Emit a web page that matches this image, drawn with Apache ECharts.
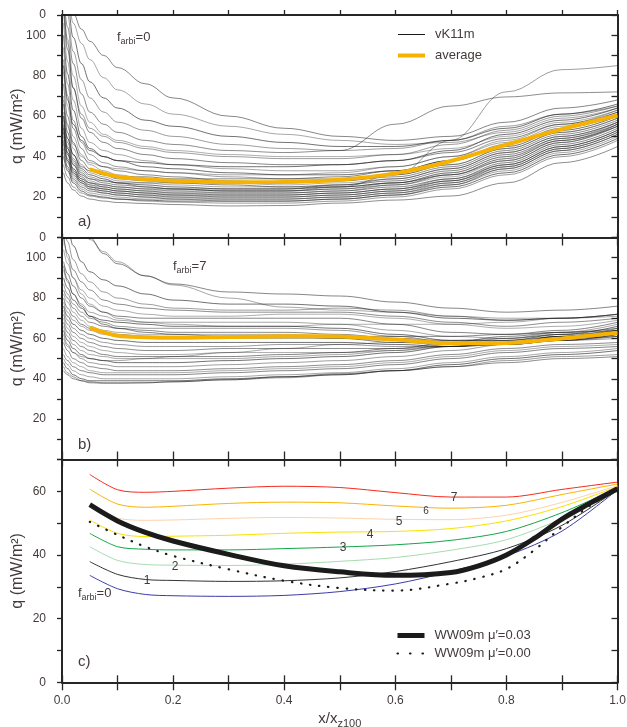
<!DOCTYPE html>
<html>
<head>
<meta charset="utf-8">
<script src="https://cdn.jsdelivr.net/npm/echarts@6/dist/echarts.min.js"></script>
<style>
  html, body { margin: 0; padding: 0; background: #fff; }
  #chart { width: 627px; height: 727px; }
</style>
</head>
<body>
<div id="chart"></div>
<script>
// ---------- data ----------
// sampling positions (x / x_z100) of the individual vK11m profiles
const xProfiles = [0.003, 0.01, 0.02, 0.035, 0.05, 0.075, 0.1, 0.15, 0.2, 0.3, 0.4, 0.5, 0.6, 0.7, 0.8, 0.9, 1.0];

// panel a) heat flow of individual vK11m models, f_arbi = 0
const vk11mA = [
  [150,128,111,103,97,90,84,76,69,60,54,50,48,50,57,64,68],
  [140,122,106,96,88,79,73,66,61,55,51,48,46,47,52,59,64],
  [132,116,99,86,77,69,64,58,55,50,47,45,45,48,54,61,66],
  [125,110,92,78,69,62,57,53,50,46,44,43,44,48,55,61,65],
  [120,104,86,71,62,56,52,48,46,43,42,43,56,65,69.5,71.5,72],
  [116,98,80,65,57,51,48,45,43,41,40,40,41,44,50,57,63],
  [112,93,74,59,52,47,44,41,39,37,36,36,38,42,49,56,62],
  [106,87,68,54,47,43,41,38,36,34,33,33,35,40,47,55,62],
  [100,81,63,50,44,40,38,35,34,32,31,31,33,38,45,53,60],
  [94,76,58,47,41,37,35,33,32,30,29,29,31,36,44,52,59],
  [88,70,54,44,38,35,33,31,30,28,27,28,30,35,43,51,58],
  [82,65,50,41,36,33,31,29,28,27,26,27,29,34,42,50,57],
  [76,60,47,38,34,31,29,28,27,26,25,26,28,33,41,49,56],
  [70,56,44,36,32,30,28,27,26,25,25,25,27,32,40,48,56],
  [66,52,41,34,31,29,27,26,25,24,24,25,27,31,39,48,55],
  [62,49,39,33,30,28,27,25,24,23,23,25,31,48,72,83,85],
  [60,47,38,32,29,27,26,25,24,23,23,24,26,31,38,47,55],
  [58,45,37,31,28,26,25,24,23,22,22,23,26,30,38,47,56],
  [56,44,36,30,27,25,24,23,22,22,22,23,25,29,37,46,54],
  [54,42,34,29,26,24,23,22,22,21,21,22,24,29,36,45,53],
  [52,41,33,28,25,24,23,22,21,21,21,22,24,28,36,45,53],
  [50,39,32,27,25,23,22,21,21,20,20,21,23,28,35,44,52],
  [48,38,31,27,24,23,22,21,20,20,20,21,23,27,35,44,52],
  [46,37,30,26,24,22,21,20,20,19,19,20,22,27,34,43,51],
  [44,35,29,25,23,22,21,20,19,19,19,20,22,26,34,43,51],
  [42,34,28,24,22,21,20,19,19,18,18,19,21,26,33,42,50],
  [40,33,27,23,21,20,19,18.5,18,18,18,19,21,25,32,41,49],
  [36,30,25,22,20.5,19.5,19,18,17.5,17,17,18,20,24,31,40,48],
  [32,27,23.5,20.5,19,18,17.3,16.8,16.3,15.6,15.8,17,18.5,20.5,27,37,45],
  [55,44,36,31,29,28,27,27,27,27,27,28,31,36,44,52,59],
  [60,49,41,35,33,31,30,30,29,29,29,30,33,38,46,54,61],
  [68,55,46,40,37,35,34,33,32,31,31,32,35,40,48,56,63],
  [85,68,56,48,43,40,38,37,36,35,35,36,38,43,51,58,64],
  [118,96,74,61,54,50,47,44,42,40,39,39,41,46,53,60,65],
  [54,42,34,29,27,26,25,24,24,24,24,26,29,34,42,50,57],
  [47,38,32,28,26,25,24,23,23,23,23,24,27,32,40,49,57]
];

// panel b) heat flow of individual vK11m models, f_arbi = 7
const vk11mB = [
  [150,135,124,116,110,102,97,91,87,83,82,81,78,75,73,74,76],
  [140,128,120,114,109,103,98,91,86.5,80,75.5,74,73,71,70,70,71],
  [128,116,106,98,93,89,86,82,79,77,77,76,73,70,69,70,72],
  [118,108,99,92,88,83,80,77,75,74,74,75,74,71,69,70,72],
  [110,102,94,88,84,79,77,75,74,73,73,73,71,68,66,68,70],
  [104,97,90,84,80,76,74,72,71,71,72,72,70,67,65,66,69],
  [98,92,86,80,76,73,71,70,70,70,70,70,67,63,62,64,68],
  [94,88,82,77,73,71,69,68,68,68,68,67,64,61,60,63,67],
  [90,85,79,75,71,69,68,67,66,66,66,65,62,59,59,62,66],
  [87,82,77,73,70,68,66,65,65,65,65,64,61,58,58,61,65],
  [84,80,75,71,68,66,65,64,63,63,63,62,60,58,58,61,64],
  [82,78,73,69,66,64,63,62,62,62,62,61,60,59,59,61,64],
  [80,75,71,67,65,63,62,61,61,61,61,61,61,61,62,63,65],
  [78,73,69,66,64,62,61,60,60,60,60,60,59,57,57,59,62],
  [76,71,67,64,62,60,59,58,58,58,58,58,57,56,57,59,62],
  [74,69,65,62,60,58,57,56,56,56,57,57,56,56,57,59,61],
  [72,67,63,60,58,56,55,54,54,55,55,55,55,56,58,60,62],
  [70,65,61,58,56,54,53,52,52,53,53,53,54,56,59,61,63],
  [68,63,59,56,54,52,51,51,51,51,52,53,55,58,61,63,64],
  [66,61,57,54,52,51,50,50,50,50,51,52,54,57,60,62,64],
  [64,59,55,52,50,49,48,48,48,49,50,51,53,56,58,60,61],
  [62,57,53,50,48,47,46,46,46,47,48,49,51,54,57,59,60],
  [58,54,50,48,46,45,44,44,44,45,46,47,49,52,55,57,58],
  [55,51,48,46,44,43,43,43,43,44,45,46,48,51,54,56,57],
  [52,49,46,44,43,42,42,42,42,43,44,45,47,50,53,55,56],
  [50,47,44,42,41,40,40,40,40,41,42,43,45,48,51,53,55],
  [48,45,42,40,39,39,39,39,39,40,41,42,44,47,50,52,54],
  [46,43,41,39,38.5,38,38,38,38.5,39.5,40.5,42,44,46,49,51,52],
  [44,42,40,39,38,37.8,37.8,38,38.5,39.5,41,42.5,44,46,48,50,51],
  [112,100,90,82,77,73,70,68,67,66,66,67,67,67,68,70,72],
  [96,89,82,76,71,67,65,63,62,61,61,60,58,57,58,61,64],
  [60,56,53,51,50,49,49,50,51,53,55,57,58,59,60,62,63]
];

// ensemble averages
const xAverage = [0.05, 0.1, 0.15, 0.2, 0.3, 0.4, 0.5, 0.6, 0.7, 0.8, 0.9, 1.0];
const averageA = [33.7, 30.1, 28.8, 28.0, 27.3, 27.5, 28.6, 31.7, 37.8, 45.9, 53.6, 60.3];
const averageB = [65.2, 61.3, 60.6, 60.3, 60.7, 61.1, 61.0, 59.4, 57.6, 57.7, 60.0, 62.8];

// panel c) averages for f_arbi = 0 ... 7
const xFarbi = [0.05, 0.1, 0.15, 0.2, 0.3, 0.4, 0.5, 0.6, 0.7, 0.8, 0.9, 1.0];
const farbiLevels = ['0', '1', '2', '3', '4', '5', '6', '7'];
const farbi0 = [33.6, 29.4, 27.6, 27.2, 27.0, 27.3, 28.5, 30.9, 34.8, 39.7, 47.5, 60.5];
const farbi1 = [37.9, 33.9, 32.3, 32.0, 31.7, 31.9, 32.8, 34.8, 37.9, 42.0, 49.3, 60.6];
const farbi2 = [42.6, 38.3, 37.0, 36.8, 36.7, 37.1, 38.0, 39.2, 41.5, 44.8, 51.5, 60.7];
const farbi3 = [46.8, 42.6, 41.8, 41.6, 41.6, 42.0, 42.5, 43.2, 44.6, 47.4, 53.3, 61.1];
const farbi4 = [51.0, 46.8, 45.8, 45.9, 46.2, 46.8, 47.2, 47.4, 48.3, 50.7, 55.2, 61.5];
const farbi5 = [56.0, 51.6, 50.9, 51.0, 51.5, 51.8, 51.6, 51.2, 51.1, 52.5, 56.5, 61.8];
const farbi6 = [60.7, 56.0, 55.0, 55.3, 56.2, 56.6, 56.4, 55.4, 54.7, 55.6, 59.0, 62.3];
const farbi7 = [65.3, 60.5, 59.7, 60.0, 61.0, 61.6, 61.2, 59.6, 58.2, 58.2, 60.6, 62.9];

// WW09m reference models
const xWW = [0.05, 0.1, 0.15, 0.2, 0.3, 0.4, 0.5, 0.6, 0.7, 0.75, 0.8, 0.85, 0.9, 0.95, 1.0];
const ww09mMu003 = [55.8, 50.7, 47.1, 44.4, 40.2, 36.6, 34.7, 33.6, 34.5, 36.6, 40.0, 45.2, 51.3, 56.2, 60.8];
const ww09mMu000 = [50.4, 46.3, 42.6, 39.7, 35.5, 31.9, 29.6, 28.8, 31.0, 32.8, 35.6, 41.5, 48.8, 55.4, 60.7];

// tick labels
const xTickLabels = ['0.0', '0.2', '0.4', '0.6', '0.8', '1.0'];
const yTickLabelsAB = [20, 40, 60, 80, 100];
const yTickLabelsC = [0, 20, 40, 60];

// ---------- styling ----------
const TEXT = '#433a3a';
const AXIS = '#262626';
const FONT = '"Liberation Sans", Arial, Helvetica, sans-serif';
const GRAY_ALPHA = [0.62, 0.45, 0.72, 0.5, 0.58, 0.42];
const FARBI_COLORS = ['#3c3ca8', '#333333', '#a6dcae', '#13a647', '#f8e200', '#fcd3ad', '#fcb300', '#f52a1c'];
const ORANGE = '#f6b200';

const pairs = (xs, ys) => xs.map((x, i) => [x, ys[i]]);

const G = [
  { left: 62, top: 15, width: 555.5, height: 222.5, outerBoundsMode: 'none', containLabel: false },
  { left: 62, top: 237.5, width: 555.5, height: 222, outerBoundsMode: 'none', containLabel: false },
  { left: 62, top: 459.5, width: 555.5, height: 222.8, outerBoundsMode: 'none', containLabel: false }
];

function xAx(grid, pos, inside, len, extra) {
  return Object.assign({
    type: 'value', gridIndex: grid, position: pos, min: 0, max: 1, interval: 0.1,
    axisLine: { show: true, onZero: false, lineStyle: { color: AXIS, width: 2 } },
    axisTick: { show: true, inside: inside, length: len, lineStyle: { color: AXIS, width: 1.3 } },
    axisLabel: { show: false },
    splitLine: { show: false }
  }, extra || {});
}

function yAx(grid, pos, max, inside, len, extra) {
  return Object.assign({
    type: 'value', gridIndex: grid, position: pos, min: 0, max: max, interval: 10,
    axisLine: { show: true, onZero: false, lineStyle: { color: AXIS, width: 2 } },
    axisTick: { show: true, inside: inside, length: len, lineStyle: { color: AXIS, width: 1.3 } },
    axisLabel: { show: false },
    splitLine: { show: false }
  }, extra || {});
}

const yLabelAB = {
  show: true, margin: 16, color: TEXT, fontSize: 12, fontFamily: FONT,
  formatter: v => (v === 110 ? '0' : (yTickLabelsAB.includes(v) ? String(v) : ''))
};
const yName = {
  name: 'q (mW/m²)', nameLocation: 'middle', nameGap: 36, nameMoveOverlap: false,
  nameTextStyle: { color: TEXT, fontSize: 16, fontFamily: FONT }
};

const xAxes = [
  xAx(0, 'bottom', true, 4),
  xAx(0, 'top', false, 5),
  xAx(1, 'bottom', true, 8),
  xAx(1, 'top', true, 8),
  xAx(2, 'bottom', false, 8, {
    axisLabel: {
      show: true, margin: 12, color: TEXT, fontSize: 12, fontFamily: FONT,
      formatter: v => { const k = Math.round(v * 10); return k % 2 === 0 ? xTickLabels[k / 2] : ''; }
    },
    name: '{m|x/x}{s|z100}', nameLocation: 'middle', nameGap: 27, nameMoveOverlap: false,
    nameTextStyle: {
      color: TEXT, fontFamily: FONT,
      rich: {
        m: { fontSize: 15, lineHeight: 20, color: TEXT, fontFamily: FONT },
        s: { fontSize: 11, lineHeight: 11, verticalAlign: 'bottom', color: TEXT, fontFamily: FONT }
      }
    }
  }),
  xAx(2, 'top', true, 7),
  xAx(2, 'bottom', true, 7, { axisLine: { show: false } })
];

const yAxes = [
  yAx(0, 'left', 110, false, 5, Object.assign({ axisLabel: yLabelAB }, yName)),
  yAx(0, 'right', 110, true, 6),
  yAx(1, 'left', 110, false, 5, Object.assign({ axisLabel: yLabelAB }, yName)),
  yAx(1, 'right', 110, true, 6),
  yAx(2, 'left', 70, false, 5, Object.assign({
    axisLabel: {
      show: true, margin: 16, color: TEXT, fontSize: 12, fontFamily: FONT,
      formatter: v => (yTickLabelsC.includes(v) ? String(v) : '')
    }
  }, yName)),
  yAx(2, 'right', 70, true, 6)
];

const series = [];
function addProfiles(list, axisIdx) {
  list.forEach((ys, i) => {
    const c = 'rgba(25,25,25,' + GRAY_ALPHA[i % GRAY_ALPHA.length] + ')';
    series.push({
      type: 'line', name: 'vK11m', xAxisIndex: axisIdx, yAxisIndex: axisIdx,
      data: pairs(xProfiles, ys), symbol: 'none', smooth: 0.4, smoothMonotone: 'x',
      silent: true, z: 2, itemStyle: { color: c },
      lineStyle: { color: c, width: 0.85 }
    });
  });
}
addProfiles(vk11mA, 0);
addProfiles(vk11mB, 2);

[[averageA, 0], [averageB, 2]].forEach(([ys, idx]) => {
  series.push({
    type: 'line', name: 'average', xAxisIndex: idx, yAxisIndex: idx,
    data: pairs(xAverage, ys), symbol: 'none', smooth: 0.3, silent: true, z: 4,
    itemStyle: { color: ORANGE }, lineStyle: { color: ORANGE, width: 4 }
  });
});

const farbiCurves = [farbi0, farbi1, farbi2, farbi3, farbi4, farbi5, farbi6, farbi7];
farbiCurves.forEach((ys, i) => {
  series.push({
    type: 'line', name: 'f_arbi=' + farbiLevels[i], xAxisIndex: 4, yAxisIndex: 4,
    data: pairs(xFarbi, ys), symbol: 'none', smooth: 0.3, silent: true, z: 2,
    itemStyle: { color: FARBI_COLORS[i] }, lineStyle: { color: FARBI_COLORS[i], width: 1 }
  });
});

series.push({
  type: 'line', name: 'WW09m μ′=0.03', xAxisIndex: 4, yAxisIndex: 4,
  data: pairs(xWW, ww09mMu003), symbol: 'none', smooth: 0.35, silent: true, z: 5,
  itemStyle: { color: '#1b1b1b' }, lineStyle: { color: '#1b1b1b', width: 5 }
});
series.push({
  type: 'line', name: 'WW09m μ′=0.00', xAxisIndex: 4, yAxisIndex: 4,
  data: pairs(xWW, ww09mMu000), symbol: 'none', smooth: 0.35, silent: true, z: 5,
  itemStyle: { color: '#1b1b1b' },
  lineStyle: { color: '#1b1b1b', width: 2.2, type: [0.5, 8.7], cap: 'round' }
});

// ---------- text annotations ----------
const subRich = {
  m: { fontSize: 13, lineHeight: 18, fill: TEXT, fontFamily: FONT },
  s: { fontSize: 9, lineHeight: 9, verticalAlign: 'bottom', fill: TEXT, fontFamily: FONT }
};
function txt(x, y, text, size, align, rich) {
  return {
    type: 'text', x: x, y: y, silent: true, z: 10,
    style: {
      text: text, fill: TEXT, font: size + 'px ' + FONT,
      align: align || 'center', verticalAlign: 'middle',
      textAlign: align || 'center', textVerticalAlign: 'middle',
      rich: rich
    }
  };
}

const graphics = [
  txt(117, 37, '{m|f}{s|arbi}{m|=0}', 13, 'left', subRich),
  txt(173, 266, '{m|f}{s|arbi}{m|=7}', 13, 'left', subRich),
  txt(78, 593, '{m|f}{s|arbi}{m|=0}', 13, 'left', subRich),
  txt(78, 222, 'a)', 15, 'left'),
  txt(78, 445, 'b)', 15, 'left'),
  txt(78, 662, 'c)', 15, 'left'),
  txt(147, 581, '1', 12),
  txt(175, 567, '2', 12),
  txt(343, 548, '3', 12),
  txt(370, 535, '4', 12),
  txt(399, 522, '5', 12),
  txt(426, 511, '6', 10),
  txt(454, 498, '7', 12)
];

const legendText = { color: TEXT, fontSize: 13, fontFamily: FONT, padding: [0, 0, 0, 5] };

const chart = echarts.init(document.getElementById('chart'), null, { renderer: 'canvas' });
chart.setOption({
  animation: false,
  backgroundColor: '#ffffff',
  textStyle: { fontFamily: FONT },
  grid: G,
  xAxis: xAxes,
  yAxis: yAxes,
  legend: [
    {
      data: [
        { name: 'vK11m', lineStyle: { color: '#1a1a1a', width: 1 } },
        { name: 'average', lineStyle: { color: ORANGE, width: 4 } }
      ],
      orient: 'vertical', left: 396, top: 28, padding: 0, itemWidth: 27, itemHeight: 12, itemGap: 8,
      itemStyle: { opacity: 0 },
      textStyle: legendText, selectedMode: false
    },
    {
      data: [
        { name: 'WW09m μ′=0.03', lineStyle: { color: '#1b1b1b', width: 5 } },
        { name: 'WW09m μ′=0.00', lineStyle: { color: '#1b1b1b', type: [0.5, 12], width: 2.2, cap: 'round' } }
      ],
      orient: 'vertical', left: 395, top: 629, padding: 0, itemWidth: 27, itemHeight: 12, itemGap: 5,
      itemStyle: { opacity: 0 },
      textStyle: legendText, selectedMode: false
    }
  ],
  graphic: graphics,
  series: series
});
</script>
</body>
</html>
